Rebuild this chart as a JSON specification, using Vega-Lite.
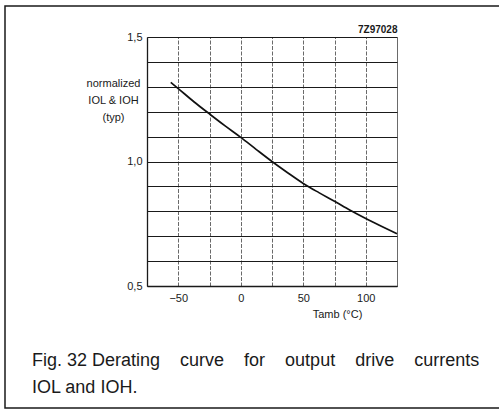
{
  "$schema": "https://vega.github.io/schema/vega-lite/v6.json",
  "autosize": "none",
  "width": 500,
  "height": 402,
  "padding": {"left": 5, "top": 6, "right": -6, "bottom": 2},
  "background": "white",
  "config": {
    "view": {"stroke": "#1a1a1a", "strokeWidth": 1.5},
    "font": "Liberation Sans"
  },
  "title": {
    "text": ["Fig. 32 Derating\u00a0\u00a0\u00a0\u00a0curve\u00a0\u00a0\u00a0\u00a0for\u00a0\u00a0\u00a0\u00a0output\u00a0\u00a0\u00a0\u00a0drive\u00a0\u00a0\u00a0\u00a0currents", "IOL and IOH."],
    "orient": "bottom",
    "anchor": "start",
    "frame": "group",
    "offset": -56,
    "dx": 27,
    "fontSize": 18,
    "fontWeight": "normal",
    "color": "#1a1a1a",
    "lineHeight": 27
  },
  "data": {
    "values": [
      {"T": -56, "v": 1.318},
      {"T": -50, "v": 1.293},
      {"T": -37.5, "v": 1.24},
      {"T": -25, "v": 1.191},
      {"T": -12.5, "v": 1.143},
      {"T": 0, "v": 1.097},
      {"T": 12.5, "v": 1.048},
      {"T": 25, "v": 1.0},
      {"T": 37.5, "v": 0.955},
      {"T": 50, "v": 0.912},
      {"T": 62.5, "v": 0.875},
      {"T": 75, "v": 0.84},
      {"T": 87.5, "v": 0.804},
      {"T": 100, "v": 0.771},
      {"T": 112.5, "v": 0.74},
      {"T": 125, "v": 0.71}
    ]
  },
  "layer": [
    {
      "mark": {"type": "line", "color": "#111", "strokeWidth": 1.7, "interpolate": "monotone"},
      "encoding": {
        "x": {
          "field": "T",
          "type": "quantitative",
          "scale": {"domain": [-75, 125], "range": [142, 392], "nice": false, "zero": false},
          "axis": {
            "orient": "bottom",
            "offset": -122,
            "values": [-50, 0, 50, 100],
            "grid": false,
            "ticks": false,
            "domain": true,
            "domainColor": "#1a1a1a",
            "domainWidth": 1.3,
            "labelFontSize": 11,
            "labelColor": "#1a1a1a",
            "labelPadding": 6,
            "title": "Tamb (°C)",
            "titleX": 332,
            "titleY": 31,
            "titleAlign": "center",
            "titleBaseline": "alphabetic",
            "titleFontSize": 11,
            "titleFontWeight": "normal",
            "titleColor": "#1a1a1a"
          }
        },
        "y": {
          "field": "v",
          "type": "quantitative",
          "scale": {"domain": [0.5, 1.5], "range": [280, 31], "nice": false, "zero": false},
          "axis": {
            "orient": "left",
            "offset": -142,
            "values": [0.5, 0.6, 0.7, 0.8, 0.9, 1.0, 1.1, 1.2, 1.3, 1.4, 1.5],
            "grid": true,
            "gridColor": "#1a1a1a",
            "gridWidth": 1.2,
            "ticks": false,
            "domain": true,
            "domainColor": "#1a1a1a",
            "domainWidth": 1.3,
            "labelExpr": "datum.value == 0.5 ? '0,5' : datum.value == 1 ? '1,0' : datum.value == 1.5 ? '1,5' : ''",
            "labelFontSize": 11,
            "labelColor": "#1a1a1a",
            "labelPadding": 5,
            "title": ["normalized", "IOL & IOH", "(typ)"],
            "titleAngle": 0,
            "titleX": -34,
            "titleY": 80,
            "titleAlign": "center",
            "titleBaseline": "alphabetic",
            "titleLineHeight": 17,
            "titleFontSize": 11,
            "titleFontWeight": "normal",
            "titleColor": "#1a1a1a"
          }
        }
      }
    },
    {
      "mark": {"type": "line", "strokeOpacity": 0},
      "encoding": {
        "x": {
          "field": "T",
          "type": "quantitative",
          "axis": {
            "orient": "top",
            "values": [-75, -50, -25, 0, 25, 50, 75, 100, 125],
            "grid": true,
            "gridColor": "#444",
            "gridWidth": 0.8,
            "gridDash": {"condition": {"test": "datum.value == -75 || datum.value == 125", "value": []}, "value": [4, 1.5]},
            "labels": false,
            "ticks": false,
            "domain": false,
            "title": "7Z97028",
            "titleX": 392,
            "titleY": 26,
            "titleAlign": "right",
            "titleBaseline": "alphabetic",
            "titleFontSize": 10,
            "titleFontWeight": "bold",
            "titleColor": "#1a1a1a"
          }
        },
        "y": {"field": "v", "type": "quantitative"}
      }
    }
  ],
  "resolve": {"axis": {"x": "independent"}}
}
